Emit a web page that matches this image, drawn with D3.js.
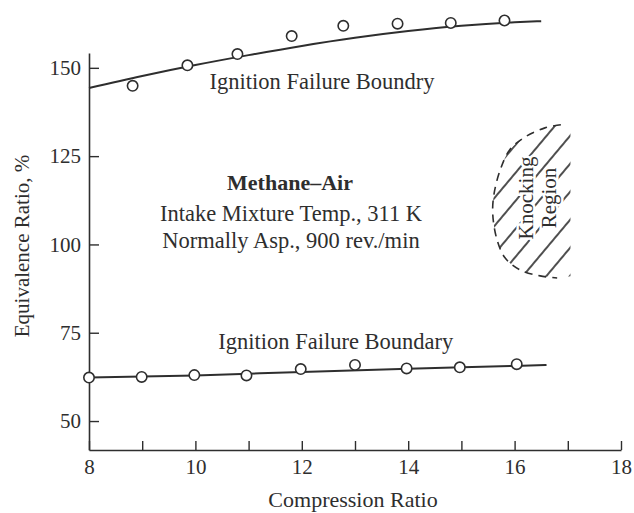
<!DOCTYPE html>
<html>
<head>
<meta charset="utf-8">
<script src="https://cdn.jsdelivr.net/npm/d3@7"></script>
<style>
  body { margin: 0; background: #fff; }
  svg { display: block; }
  text { font-family: "Liberation Serif", "Times New Roman", serif; fill: #2e2e2e; }
</style>
</head>
<body>
<svg id="chart" width="634" height="513"></svg>
<script>
// upper ignition failure boundary: measured points and faired curve
const upperPointsX = [8.82, 9.85, 10.79, 11.81, 12.78, 13.8, 14.8, 15.81];
const upperPointsY = [144.9, 150.7, 153.9, 159.0, 161.9, 162.5, 162.7, 163.4];
const upperCurveX = [8, 9, 10, 11, 12, 13, 14, 15, 16, 16.5];
const upperCurveY = [144.3, 147.7, 150.8, 153.6, 156.2, 158.5, 160.4, 161.9, 162.9, 163.2];

// lower ignition failure boundary
const lowerPointsX = [8, 8.99, 9.98, 10.96, 11.98, 13.0, 13.97, 14.97, 16.04];
const lowerPointsY = [62.3, 62.5, 63.0, 62.9, 64.7, 65.9, 64.9, 65.2, 66.1];
const lowerCurveX = [8, 10, 12, 14, 16, 16.6];
const lowerCurveY = [62.3, 62.9, 63.9, 64.8, 65.6, 65.9];

// knocking region outline (dashed edge, top right round to bottom right)
const knockX = [16.87, 16.57, 16.20, 15.91, 15.73, 15.61, 15.59, 15.67, 15.82, 16.10, 16.48, 16.80];
const knockY = [133.9, 133.0, 130.45, 126.8, 121.1, 114.0, 108.4, 101.3, 96.2, 92.8, 91.1, 90.5];
const knockEdgeX = 17.05;

const xTicks = [8, 9, 10, 11, 12, 13, 14, 15, 16, 17, 18];
const yTicks = [50, 75, 100, 125, 150];

const xTitle = 'Compression Ratio';
const yTitle = 'Equivalence Ratio, %';
const upperLabel = 'Ignition Failure Boundry';
const lowerLabel = 'Ignition Failure Boundary';
const noteTitle = 'Methane\u2013Air';
const noteLines = ['Intake Mixture Temp., 311 K', 'Normally Asp., 900 rev./min'];
const knockLabel = ['Knocking', 'Region'];

const ink = '#2e2e2e';
const svg = d3.select('#chart');

// plot area (y axis runs a little past 50 and 150)
const x = d3.scaleLinear().domain([8, 18]).range([89, 621]);
const y = d3.scaleLinear().domain([41.8, 154.2]).range([450, 53]);

// x axis, ticks pointing inward
const xAxis = svg.append('g')
    .attr('transform', `translate(0,${y(41.8)})`)
    .call(d3.axisBottom(x)
        .tickValues(xTicks)
        .tickSizeInner(-9)
        .tickSizeOuter(0)
        .tickPadding(9)
        .tickFormat(d => d % 2 === 0 ? d : ''));

// y axis
const yAxis = svg.append('g')
    .attr('transform', `translate(${x(8)},0)`)
    .call(d3.axisLeft(y)
        .tickValues(yTicks)
        .tickSizeInner(-10)
        .tickSizeOuter(0)
        .tickPadding(8));

[xAxis, yAxis].forEach(g => {
    g.attr('font-family', null).attr('font-size', null);
    g.select('.domain').attr('stroke', ink).attr('stroke-width', 1.6);
    g.selectAll('.tick line').attr('stroke', ink).attr('stroke-width', 1.4);
    g.selectAll('.tick text').attr('font-size', 21).style('fill', ink);
});

// axis titles
svg.append('text')
    .attr('x', 353).attr('y', 507)
    .attr('text-anchor', 'middle')
    .attr('font-size', 22)
    .text(xTitle);

svg.append('text')
    .attr('transform', `translate(29,246) rotate(-90)`)
    .attr('text-anchor', 'middle')
    .attr('font-size', 21)
    .text(yTitle);

// knocking region: hatch pattern clipped to the outline
const defs = svg.append('defs');
defs.append('pattern')
    .attr('id', 'hatch')
    .attr('patternUnits', 'userSpaceOnUse')
    .attr('width', 18)
    .attr('height', 18)
    .attr('patternTransform', 'rotate(40)')
    .append('line')
    .attr('x1', 2).attr('y1', 0)
    .attr('x2', 2).attr('y2', 18)
    .attr('stroke', '#222')
    .attr('stroke-width', 1.6);

const knockPts = knockX.map((d, i) => [d, knockY[i]]);
const outline = d3.line()
    .x(d => x(d[0]))
    .y(d => y(d[1]))
    .curve(d3.curveCatmullRom);

const bottomEnd = [knockEdgeX, knockY[knockY.length - 1] + 0.5];
const topEnd = [knockEdgeX, knockY[0] - 0.5];
svg.append('path')
    .attr('d', outline(knockPts) + `L${x(bottomEnd[0])},${y(bottomEnd[1])}L${x(topEnd[0])},${y(topEnd[1])}Z`)
    .attr('fill', 'url(#hatch)');

svg.append('path')
    .attr('d', outline(knockPts))
    .attr('fill', 'none')
    .attr('stroke', ink)
    .attr('stroke-width', 1.6)
    .attr('stroke-dasharray', '8,6');

const knockText = svg.append('g')
    .attr('font-size', 21)
    .attr('text-anchor', 'middle');
knockText.selectAll('text')
    .data(knockLabel)
    .join('text')
    .attr('transform', (d, i) => `translate(${[533, 556][i]},198) rotate(-90)`)
    .attr('stroke', '#fff')
    .attr('stroke-width', 5)
    .attr('paint-order', 'stroke')
    .text(d => d);

// boundary curves
const line = d3.line()
    .x(d => x(d[0]))
    .y(d => y(d[1]))
    .curve(d3.curveMonotoneX);

svg.append('path')
    .datum(upperCurveX.map((d, i) => [d, upperCurveY[i]]))
    .attr('d', line)
    .attr('fill', 'none')
    .attr('stroke', ink)
    .attr('stroke-width', 2);

svg.append('path')
    .datum(lowerCurveX.map((d, i) => [d, lowerCurveY[i]]))
    .attr('d', line)
    .attr('fill', 'none')
    .attr('stroke', ink)
    .attr('stroke-width', 2);

// measured points
const pts = upperPointsX.map((d, i) => [d, upperPointsY[i]])
    .concat(lowerPointsX.map((d, i) => [d, lowerPointsY[i]]));
svg.selectAll('.pt')
    .data(pts)
    .join('circle')
    .attr('class', 'pt')
    .attr('cx', d => x(d[0]))
    .attr('cy', d => y(d[1]))
    .attr('r', 5.2)
    .attr('fill', '#fff')
    .attr('stroke', ink)
    .attr('stroke-width', 1.6);

// annotations
svg.append('text')
    .attr('x', x(12.38)).attr('y', y(144.0))
    .attr('text-anchor', 'middle')
    .attr('font-size', 22.5)
    .text(upperLabel);

svg.append('text')
    .attr('x', x(12.64)).attr('y', y(66.2) - 15)
    .attr('text-anchor', 'middle')
    .attr('font-size', 22.5)
    .text(lowerLabel);

svg.append('text')
    .attr('x', 290).attr('y', 190)
    .attr('text-anchor', 'middle')
    .attr('font-size', 22)
    .attr('font-weight', 'bold')
    .text(noteTitle);

svg.selectAll('.note')
    .data(noteLines)
    .join('text')
    .attr('class', 'note')
    .attr('x', 291)
    .attr('y', (d, i) => 221 + i * 27)
    .attr('text-anchor', 'middle')
    .attr('font-size', 22.5)
    .text(d => d);
</script>
</body>
</html>
